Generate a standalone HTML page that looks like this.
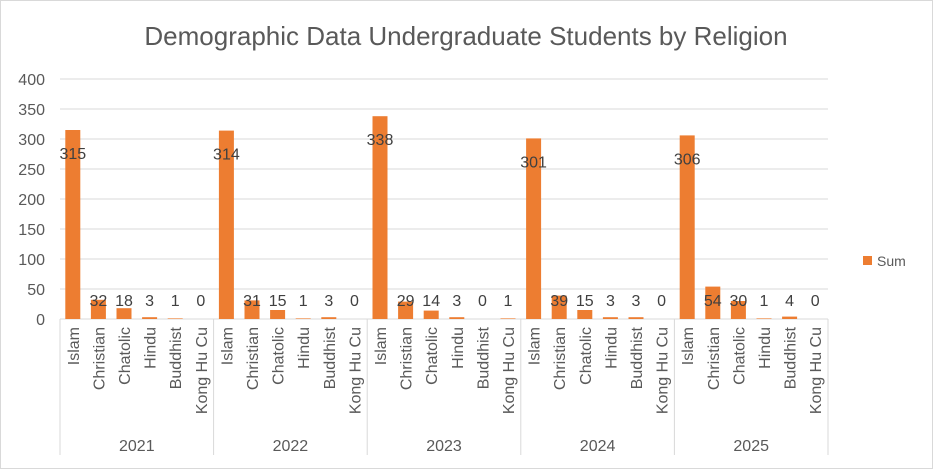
<!DOCTYPE html>
<html><head><meta charset="utf-8"><style>
body{margin:0;background:#fff}
svg{display:block;font-family:"Liberation Sans",sans-serif}
</style></head><body>
<svg id="c" width="933" height="469">
<rect x="0.5" y="0.5" width="932" height="468" fill="#fff" stroke="#d9d9d9"/>
<text x="466" y="45" font-size="26" fill="#595959" text-anchor="middle">Demographic Data Undergraduate Students by Religion</text>
<g id="plot"></g>
<rect x="863" y="256" width="9" height="9" fill="#ed7d31"/>
<text x="877" y="266" font-size="14" fill="#595959">Sum</text>
</svg>
<script>
const years=["2021","2022","2023","2024","2025"];
const religions=["Islam","Christian","Chatolic","Hindu","Buddhist","Kong Hu Cu"];
const values=[[315,32,18,3,1,0],[314,31,15,1,3,0],[338,29,14,3,0,1],[301,39,15,3,3,0],[306,54,30,1,4,0]];
const yTicks=[0,50,100,150,200,250,300,350,400];
const NS="http://www.w3.org/2000/svg";
const g=document.getElementById('plot');
const X0=60,X1=828,Y0=319,Y1=79,YMAX=400;
const y=v=>Y0-(v/YMAX)*(Y0-Y1);
const gw=(X1-X0)/years.length, cw=gw/religions.length;
function mk(t,a){const e=document.createElementNS(NS,t);for(const k in a)e.setAttribute(k,a[k]);g.appendChild(e);return e;}
yTicks.forEach(t=>{
 if(t>0){const l=mk('line',{x1:X0,x2:X1,y1:y(t),y2:y(t),stroke:'#d9d9d9'});
 
 }
 const tx=mk('text',{x:45,y:y(t)+6,'font-size':16,fill:'#595959','text-anchor':'end'});tx.textContent=t;
 
 
});
const ax=mk('line',{x1:X0,x2:X1,y1:Y0,y2:Y0,stroke:'#d9d9d9'});


for(let i=0;i<=years.length;i++){
 const sx=X0+i*gw;
 const s=mk('line',{x1:sx,x2:sx,y1:Y0,y2:455,stroke:'#d9d9d9'});
 
 
}
years.forEach((yr,i)=>{
 const yt=mk('text',{x:X0+i*gw+gw/2,y:451,'font-size':16,fill:'#595959','text-anchor':'middle'});yt.textContent=yr;
 
 
 religions.forEach((r,j)=>{
  const v=values[i][j];const cx=X0+i*gw+j*cw+cw/2;
  const b=mk('rect',{x:cx-7.5,y:y(v),width:15,height:Y0-y(v),fill:'#ed7d31'});
  
  
  const ly=v>100?y(v)+29:306;
  const lt=mk('text',{x:cx,y:ly,'font-size':16,fill:'#404040','text-anchor':'middle'});lt.textContent=v;
  
  
  const ct=mk('text',{x:0,y:0,'font-size':16,fill:'#595959','text-anchor':'end',transform:`translate(${cx+6},327) rotate(-90)`});ct.textContent=r;
  
  
 });
});
</script>
</body></html>
